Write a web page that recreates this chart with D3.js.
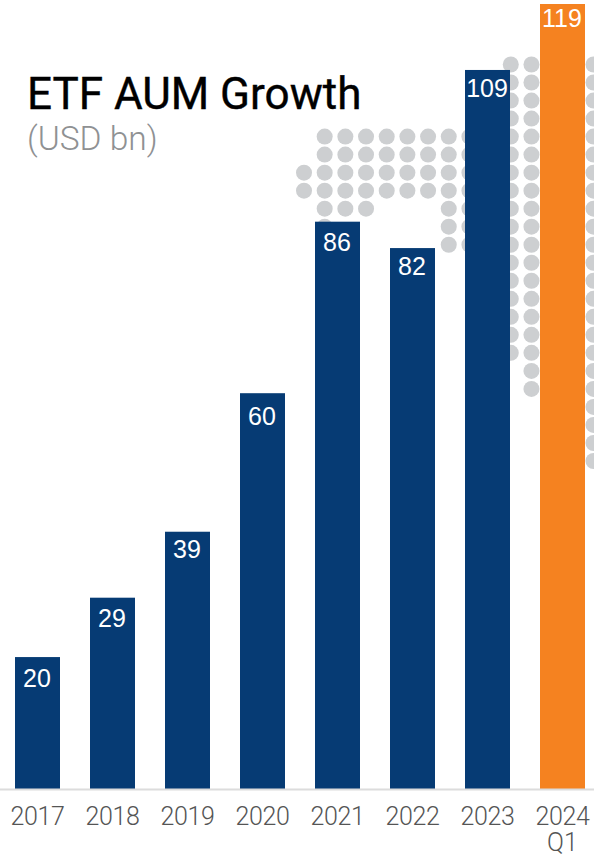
<!DOCTYPE html>
<html><head><meta charset="utf-8">
<script src="https://cdn.jsdelivr.net/npm/d3@7"></script>
<style>html,body{margin:0;padding:0;background:#fff;overflow:hidden}svg{display:block}</style>
</head><body><svg id="c" width="594" height="856"></svg>
<script>
const categories = ["2017","2018","2019","2020","2021","2022","2023","2024"];
const values = [20,29,39,60,86,82,109,119];
const subLabels = ["","","","","","","","Q1"];
const highlight = ["2024"];
const titleText = "ETF AUM Growth";
const subtitleText = "(USD bn)";
// decorative dot pattern: rows of grid column indices
const dotRow0 = [10,11,14];
const dotRows = [
 dotRow0,dotRow0,dotRow0,dotRow0,
 [1,2,3,4,5,6,7,8,9,10,11,14],
 [1,2,3,4,5,6,7,8,9,10,11,14],
 [0,1,2,3,4,5,6,7,8,9,10,11,14],
 [0,1,2,3,4,5,6,7,8,9,10,11,14],
 [1,2,3,7,8,9,10,11,14],
 [1,7,8,9,10,11,14],
 [7,8,9,10,11,14],
 [9,10,11,14],
 [9,10,11,14],[9,10,11,14],[9,10,11,14],[9,10,11,14],
 [10,11,14],[11,14],[11,14],[14],[14],[14],[14]
];

const W=594,H=856,baseY=789;
const svg=d3.select("#c");
const x=d3.scaleBand().domain(categories).range([0,600]).paddingInner(0.4).paddingOuter(0.2);
const y=d3.scaleLinear().domain([0,119]).range([baseY,4]);
const dotX=d3.scaleLinear().domain([0,14]).range([304,593.5]);
const dotY=d3.scaleLinear().domain([0,22]).range([64.5,461]);

const dots=dotRows.flatMap((cols,r)=>cols.map(c=>({r,c})));
svg.append("g").selectAll("circle").data(dots).join("circle")
 .attr("cx",d=>dotX(d.c)).attr("cy",d=>dotY(d.r)).attr("r",8).attr("fill","#cdcfd1");

svg.append("g").selectAll("rect").data(categories).join("rect")
 .attr("x",d=>x(d)).attr("width",x.bandwidth())
 .attr("y",(d,i)=>y(values[i])).attr("height",(d,i)=>baseY-y(values[i]))
 .attr("fill",d=>highlight.includes(d)?"#f58220":"#063b74");

const labelDy=[30,29,26,32,29.5,26.5,27.5,23];
svg.append("g").selectAll("text").data(categories).join("text")
 .attr("x",d=>x(d)+x.bandwidth()/2-0.5).attr("y",(d,i)=>y(values[i])+labelDy[i])
 .attr("text-anchor","middle").attr("fill","#fff")
 .attr("font-family","'Liberation Sans',Arial,sans-serif").attr("font-size",25)
 .text((d,i)=>values[i]);

svg.append("line").attr("x1",0).attr("x2",W).attr("y1",baseY+0.5).attr("y2",baseY+0.5)
 .attr("stroke","#dcdcdc").attr("stroke-width",2);

const axis=d3.axisBottom(x).tickSize(0).tickPadding(18);
const gx=svg.append("g").attr("transform",`translate(0,${baseY})`).call(axis);
gx.select(".domain").remove();
gx.selectAll("text").attr("font-family","Roboto,sans-serif").attr("font-size",25).attr("font-weight",300)
 .attr("letter-spacing",-0.4).attr("fill","#555");
gx.selectAll(".tick").filter((d,i)=>subLabels[i]).append("text")
 .attr("y",62).attr("fill","#555").attr("text-anchor","middle")
 .attr("font-family","Roboto,sans-serif").attr("font-size",25).attr("font-weight",300)
 .text((d)=>subLabels[categories.indexOf(d)]);

svg.append("text").attr("x",27).attr("y",109).attr("font-family","Roboto,sans-serif")
 .attr("font-size",44).attr("font-weight",400).attr("fill","#000").attr("stroke","#000").attr("stroke-width",0.4).text(titleText);
svg.append("text").attr("x",27).attr("y",150).attr("font-family","Roboto,sans-serif")
 .attr("font-size",33.5).attr("font-weight",300).attr("fill","#8f9193").text(subtitleText);
</script></body></html>
